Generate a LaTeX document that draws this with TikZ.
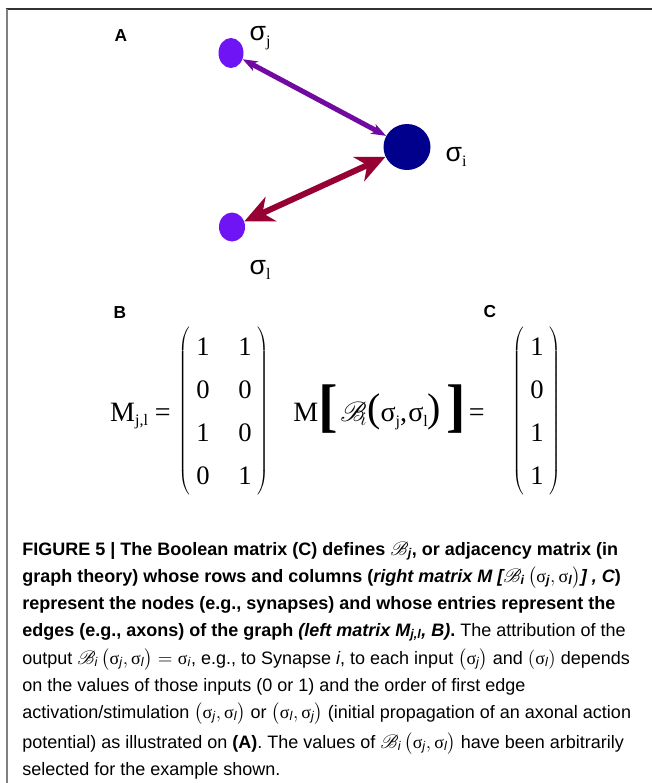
\documentclass[tikz,border=0pt]{standalone}
\usepackage{amsmath,amssymb}
\usepackage{mathrsfs}
\usepackage{fontspec}
\setmainfont{Liberation Sans}
\newfontfamily\tms{Liberation Serif}
\usetikzlibrary{arrows.meta,matrix,shapes.geometric,positioning}
\definecolor{synviolet}{RGB}{110,20,245}
\definecolor{synnavy}{RGB}{0,0,140}
\definecolor{edgepurple}{RGB}{112,10,160}
\definecolor{edgered}{RGB}{150,0,50}
\newcommand{\sg}{\text{\tms\mdseries\upshape σ}}
\newcommand{\bsub}[1]{\text{\bfseries\itshape #1}}
\newcommand{\isub}[1]{\text{\mdseries\itshape #1}}

\begin{document}
\begin{tikzpicture}[x=0.75pt,y=-0.75pt,
    panel/.style={font=\bfseries\fontsize{13}{13}\selectfont},
    synapse/.style={ellipse,inner sep=0pt},
    siglabel/.style={font=\fontsize{20}{20}\selectfont},
    capline/.style={anchor=base west,inner sep=0pt,font=\fontsize{13.5}{15}\selectfont},
    entry/.style={font=\tms\fontsize{20}{20}\selectfont,anchor=center,inner sep=0pt,
      minimum height=32.25pt,minimum width=16.5pt}]
  \def\px{0.75pt}
  \useasboundingbox (0,0) rectangle (652,783);
  % frame
  \draw[line width=1.5pt,black!80] (6,9) -- (652,9);
  \draw[line width=1.5pt,black!50] (7,9) -- (7,783);

  % (A) the three synapses
  \node[panel] (labA) at (121,36) {A};
  \node[synapse,fill=synviolet,minimum width=25*\px,minimum height=30*\px] (sj) at (231,53) {};
  \node[synapse,fill=synnavy,minimum width=47*\px,minimum height=46*\px] (si) at (407,147) {};
  \node[synapse,fill=synviolet,minimum width=26*\px,minimum height=29*\px] (sl) at (232,227) {};
  \node[siglabel] (tj) at (260,38) {σ\raisebox{-4pt}{\tms\fontsize{12}{12}\selectfont j}};
  \node[siglabel] (ti) at (456,157) {σ\raisebox{-4pt}{\tms\fontsize{12}{12}\selectfont i}};
  \node[siglabel] (tl) at (260,270) {σ\raisebox{-4pt}{\tms\fontsize{12}{12}\selectfont l}};
  \draw[edgepurple,line width=5*\px,{Stealth[length=11pt,width=8pt,inset=3pt]}-{Stealth[length=11pt,width=8pt,inset=3pt]}] (sj) -- (si);
  \draw[edgered,line width=6*\px,{Stealth[length=22pt,width=20pt,inset=7pt]}-{Stealth[length=22pt,width=20pt,inset=7pt]}] (sl) -- (si);

  % (B) and (C)
  \node[panel] (labB) at (120,313) {B};
  \node[panel] (labC) at (490,312) {C};
  \node[anchor=base east,inner sep=0pt,font=\tms\fontsize{21}{21}\selectfont] (mjl) at (171,421)
    {M\raisebox{-3pt}{\fontsize{12}{12}\selectfont j,l} =};
  \matrix (matB) [matrix of nodes,nodes={entry},column sep=15pt,inner sep=0pt,
    left delimiter=(,right delimiter=)] at (224,411)
    {1 & 1\\ 0 & 0\\ 1 & 0\\ 0 & 1\\};
  \node[anchor=base west,inner sep=0pt,font=\tms\fontsize{21}{21}\selectfont] (mexpr) at (293,421)
    {M\raisebox{-3pt}{\fontsize{44}{44}\selectfont\bfseries[}\kern2pt%
     $\fontsize{31}{31}\selectfont\mathscr{B}_{\kern-4pt i}$%
     {\fontsize{30}{30}\selectfont(}σ\raisebox{-4pt}{\fontsize{12}{12}\selectfont j},\kern1pt σ\raisebox{-4pt}{\fontsize{12}{12}\selectfont l}{\fontsize{30}{30}\selectfont)}\kern4pt%
     \raisebox{-3pt}{\fontsize{44}{44}\selectfont\bfseries]}\kern2pt=};
  \matrix (matC) [matrix of nodes,nodes={entry},inner sep=0pt,
    left delimiter=(,right delimiter=)] at (537,411)
    {1\\ 0\\ 1\\ 1\\};

  % caption
  \node[capline] (cap1) at (22,555) {\bfseries FIGURE 5 | The Boolean matrix (C) defines $\mathscr{B}_{\bsub{j}}$, or adjacency matrix (in};
  \node[capline] (cap2) at (22,582) {\bfseries graph theory) whose rows and columns (\textit{right matrix M [$\mathscr{B}_{\bsub{i}}\,\bigl(\sg_{\bsub{j}},\sg_{\bsub{l}}\bigr)$] , C})};
  \node[capline] (cap3) at (22,609) {\bfseries represent the nodes (e.g., synapses) and whose entries represent the};
  \node[capline] (cap4) at (22,636) {\textbf{edges (e.g., axons) of the graph \textit{(left matrix M$_{\bsub{j,l}}$, B)}.} The attribution of the};
  \node[capline] (cap5) at (22,664) {output $\mathscr{B}_{\isub{i}}\,\bigl(\sg_{\isub{j}},\sg_{\isub{l}}\bigr)=\sg_{\isub{i}}$, e.g., to Synapse \textit{i}, to each input $\bigl(\sg_{\isub{j}}\bigr)$ and $(\sg_{\isub{l}})$ depends};
  \node[capline] (cap6) at (22,691) {on the values of those inputs (0 or 1) and the order of first edge};
  \node[capline] (cap7) at (22,718) {activation/stimulation $\bigl(\sg_{\isub{j}},\sg_{\isub{l}}\bigr)$ or $\bigl(\sg_{\isub{l}},\sg_{\isub{j}}\bigr)$ (initial propagation of an axonal action};
  \node[capline] (cap8) at (22,748) {potential) as illustrated on \textbf{(A)}. The values of $\mathscr{B}_{\isub{i}}\,\bigl(\sg_{\isub{j}},\sg_{\isub{l}}\bigr)$ have been arbitrarily};
  \node[capline] (cap9) at (22,775) {selected for the example shown.};
\end{tikzpicture}
\end{document}
